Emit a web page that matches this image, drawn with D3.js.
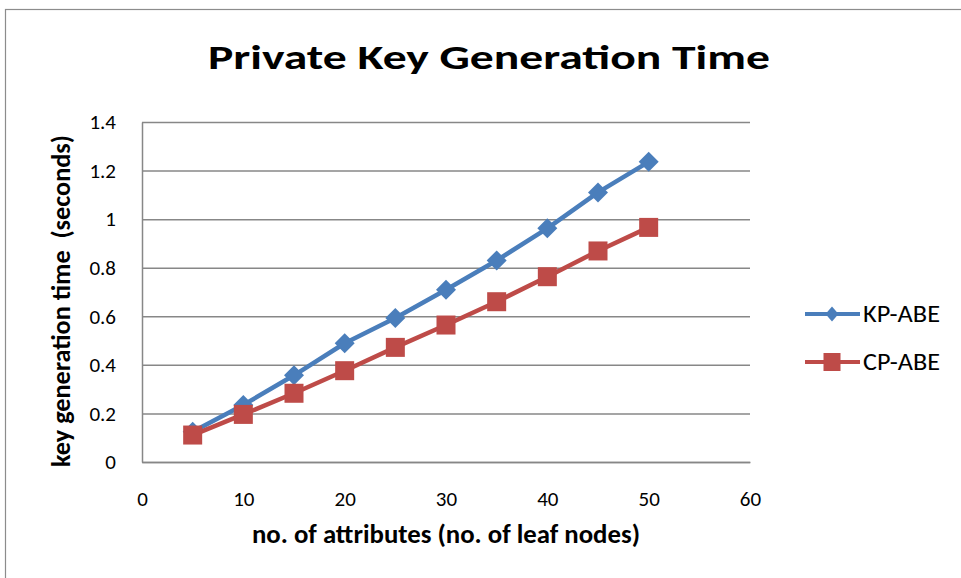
<!DOCTYPE html>
<html>
<head>
<meta charset="utf-8">
<script src="https://cdn.jsdelivr.net/npm/d3@7"></script>
<style>
  body { margin: 0; background: #fff; }
  text { font-family: Carlito, Calibri, "Open Sans", sans-serif; }
</style>
</head>
<body>
<svg id="chart" width="961" height="578"></svg>
<script>
// Data
const attributes = [5, 10, 15, 20, 25, 30, 35, 40, 45, 50];
const kpAbe = [0.125, 0.235, 0.357, 0.489, 0.593, 0.709, 0.83, 0.962, 1.11, 1.236];
const cpAbe = [0.111, 0.196, 0.283, 0.376, 0.472, 0.564, 0.66, 0.763, 0.869, 0.966];
const xTicks = [0, 10, 20, 30, 40, 50, 60];
const yTicks = [0, 0.2, 0.4, 0.6, 0.8, 1, 1.2, 1.4];
const seriesNames = ["KP-ABE", "CP-ABE"];

const svg = d3.select("#chart");

// Plot area
const plot = { left: 142, right: 750, top: 122, bottom: 462 };

// Outer frame
svg.append("rect")
    .attr("x", 5.5).attr("y", 9.5)
    .attr("width", 1000).attr("height", 600)
    .attr("fill", "none")
    .attr("stroke", "#8c8c8c")
    .attr("stroke-width", 1.2);

const xScale = d3.scaleLinear().domain([0, 60]).range([plot.left, plot.right]);
const yScale = d3.scaleLinear().domain([0, 1.4]).range([plot.bottom, plot.top]);

// Gridlines
svg.append("g")
    .attr("transform", `translate(${plot.left},0)`)
    .call(d3.axisLeft(yScale).tickValues(yTicks).tickSize(-(plot.right - plot.left)).tickFormat(""))
    .call(g => g.select(".domain").remove())
    .selectAll("line")
    .attr("stroke", "#878787")
    .attr("stroke-width", 1.5);

// Axes
const yAxis = svg.append("g")
    .attr("transform", `translate(${plot.left},0)`)
    .call(d3.axisLeft(yScale).tickValues(yTicks).tickSize(0).tickPadding(26).tickFormat(d => d3.format("")(+d.toFixed(1))));
yAxis.select(".domain").attr("stroke", "#878787").attr("stroke-width", 1.5);
yAxis.selectAll("text").style("font-size", "21px").attr("fill", "#000");

const xAxis = svg.append("g")
    .attr("transform", `translate(0,${plot.bottom})`)
    .call(d3.axisBottom(xScale).tickValues(xTicks).tickSize(0).tickPadding(0));
xAxis.select(".domain").attr("stroke", "#878787").attr("stroke-width", 1.5);
xAxis.selectAll("text")
    .attr("y", 44).attr("dy", null)
    .style("font-size", "21px").attr("fill", "#000");

// Series: line then markers, one series after the other
const colors = ["#4a7ebb", "#be4b48"];
const allSeries = [kpAbe, cpAbe];

allSeries.forEach((vals, i) => {
    const pts = attributes.map((a, j) => [a, vals[j]]);
    svg.append("path")
        .datum(pts)
        .attr("fill", "none")
        .attr("stroke", colors[i])
        .attr("stroke-width", 4.5)
        .attr("stroke-linejoin", "round")
        .attr("d", d3.line().x(d => xScale(d[0])).y(d => yScale(d[1])));

    if (i === 0) {
        svg.append("g").selectAll("path")
            .data(pts)
            .join("path")
            .attr("transform", d => `translate(${xScale(d[0])},${yScale(d[1])})`)
            .attr("d", "M0,-10L10,0L0,10L-10,0Z")
            .attr("fill", colors[i]);
    } else {
        svg.append("g").selectAll("rect")
            .data(pts)
            .join("rect")
            .attr("x", d => xScale(d[0]) - 9.5)
            .attr("y", d => yScale(d[1]) - 9.5)
            .attr("width", 19).attr("height", 19)
            .attr("fill", colors[i]);
    }
});

// Title
svg.append("text")
    .attr("x", 208).attr("y", 69)
    .attr("textLength", 562)
    .attr("lengthAdjust", "spacingAndGlyphs")
    .style("font-size", "35px")
    .style("font-weight", "bold")
    .text("Private Key Generation Time");

// Axis titles
svg.append("text")
    .attr("x", 252).attr("y", 543)
    .attr("textLength", 388)
    .attr("lengthAdjust", "spacingAndGlyphs")
    .style("font-size", "26px")
    .style("font-weight", "bold")
    .text("no. of attributes (no. of leaf nodes)");

svg.append("text")
    .attr("transform", "translate(70,467) rotate(-90)")
    .attr("textLength", 332)
    .attr("lengthAdjust", "spacingAndGlyphs")
    .style("font-size", "26px")
    .style("font-weight", "bold")
    .style("white-space", "pre")
    .text("key generation time  (seconds)");

// Legend
const legend = svg.append("g").attr("transform", "translate(805,314)");
seriesNames.forEach((name, i) => {
    const g = legend.append("g").attr("transform", `translate(0,${i * 48})`);
    g.append("line")
        .attr("x1", 0).attr("x2", 55)
        .attr("stroke", colors[i])
        .attr("stroke-width", 4);
    if (i === 0) {
        g.append("path").attr("d", "M27,-7.5L33.5,0L27,7.5L20.5,0Z").attr("fill", colors[i]);
    } else {
        g.append("rect").attr("x", 18.5).attr("y", -9).attr("width", 17).attr("height", 18).attr("fill", colors[i]);
    }
    g.append("text")
        .attr("x", 58).attr("y", 8)
        .attr("textLength", 77)
        .attr("lengthAdjust", "spacingAndGlyphs")
        .style("font-size", "24px")
        .text(name);
});
</script>
</body>
</html>
